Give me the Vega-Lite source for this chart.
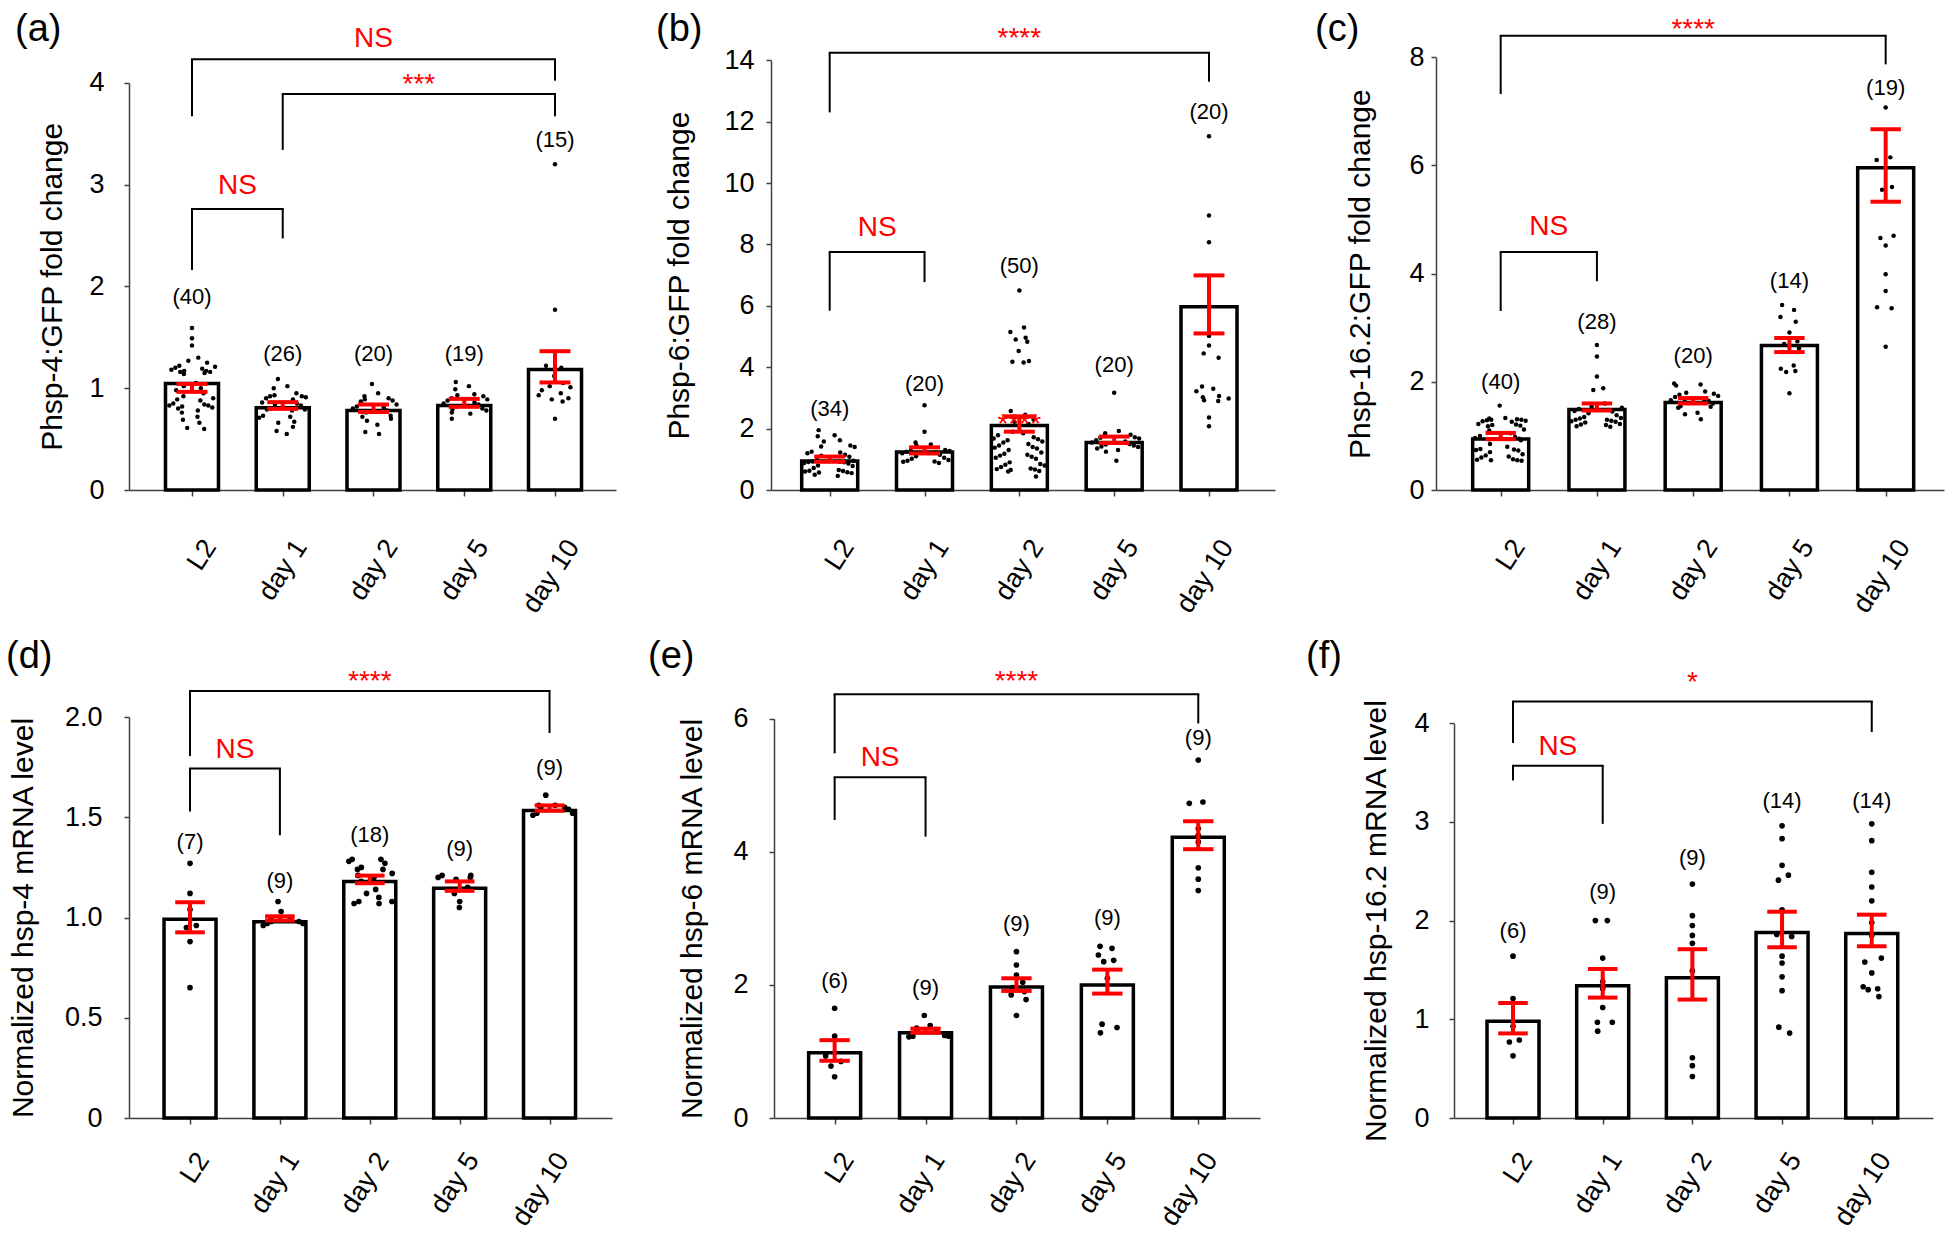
{
"$schema": "https://vega.github.io/schema/vega-lite/v6.json",
"padding": {"left": 6, "top": 10, "right": 5, "bottom": 5},
"background": "white",
"spacing": 20,
"config": {
 "font": "Liberation Sans",
 "view": {"stroke": null},
 "axis": {"grid": false, "domainColor": "#404040", "domainWidth": 1.5, "tickColor": "#404040", "tickWidth": 1.5, "labelColor": "#000000", "titleColor": "#000000", "labelFontSize": 27, "titleFontSize": 30, "titleFontWeight": "normal", "labelFont": "Liberation Sans", "titleFont": "Liberation Sans", "labelFlush": false, "labelOverlap": false},
 "axisY": {"tickSize": 5},
 "axisX": {"tickSize": 6},
 "title": {"anchor": "start", "frame": "group", "fontSize": 38, "fontWeight": "normal", "font": "Liberation Sans", "color": "#000000", "offset": 0, "baseline": "alphabetic"},
 "text": {"font": "Liberation Sans"}
},
"datasets": {
 "a_pts": [
  {"g":"L2","v":1.59},{"g":"L2","v":1.49},{"g":"L2","v":1.42},{"g":"L2","v":1.30},{"g":"L2","v":1.27},{"g":"L2","v":1.25},{"g":"L2","v":1.22},{"g":"L2","v":1.21},{"g":"L2","v":1.20},{"g":"L2","v":1.19},{"g":"L2","v":1.18},{"g":"L2","v":1.17},{"g":"L2","v":1.17},{"g":"L2","v":1.16},{"g":"L2","v":1.16},{"g":"L2","v":1.15},{"g":"L2","v":1.14},{"g":"L2","v":1.05},{"g":"L2","v":1.02},{"g":"L2","v":1.00},{"g":"L2","v":0.98},{"g":"L2","v":0.95},{"g":"L2","v":0.92},{"g":"L2","v":0.90},{"g":"L2","v":0.89},{"g":"L2","v":0.88},{"g":"L2","v":0.85},{"g":"L2","v":0.84},{"g":"L2","v":0.83},{"g":"L2","v":0.83},{"g":"L2","v":0.82},{"g":"L2","v":0.81},{"g":"L2","v":0.80},{"g":"L2","v":0.78},{"g":"L2","v":0.76},{"g":"L2","v":0.72},{"g":"L2","v":0.69},{"g":"L2","v":0.66},{"g":"L2","v":0.61},{"g":"L2","v":0.60},
  {"g":"day 1","v":1.09},{"g":"day 1","v":1.02},{"g":"day 1","v":1.00},{"g":"day 1","v":0.95},{"g":"day 1","v":0.93},{"g":"day 1","v":0.92},{"g":"day 1","v":0.92},{"g":"day 1","v":0.91},{"g":"day 1","v":0.90},{"g":"day 1","v":0.89},{"g":"day 1","v":0.86},{"g":"day 1","v":0.85},{"g":"day 1","v":0.84},{"g":"day 1","v":0.83},{"g":"day 1","v":0.80},{"g":"day 1","v":0.79},{"g":"day 1","v":0.79},{"g":"day 1","v":0.78},{"g":"day 1","v":0.73},{"g":"day 1","v":0.72},{"g":"day 1","v":0.71},{"g":"day 1","v":0.67},{"g":"day 1","v":0.66},{"g":"day 1","v":0.62},{"g":"day 1","v":0.58},{"g":"day 1","v":0.55},
  {"g":"day 2","v":1.04},{"g":"day 2","v":0.95},{"g":"day 2","v":0.92},{"g":"day 2","v":0.90},{"g":"day 2","v":0.89},{"g":"day 2","v":0.88},{"g":"day 2","v":0.87},{"g":"day 2","v":0.84},{"g":"day 2","v":0.82},{"g":"day 2","v":0.81},{"g":"day 2","v":0.80},{"g":"day 2","v":0.78},{"g":"day 2","v":0.76},{"g":"day 2","v":0.73},{"g":"day 2","v":0.72},{"g":"day 2","v":0.70},{"g":"day 2","v":0.68},{"g":"day 2","v":0.64},{"g":"day 2","v":0.57},{"g":"day 2","v":0.55},
  {"g":"day 5","v":1.06},{"g":"day 5","v":1.02},{"g":"day 5","v":0.99},{"g":"day 5","v":0.94},{"g":"day 5","v":0.93},{"g":"day 5","v":0.92},{"g":"day 5","v":0.90},{"g":"day 5","v":0.89},{"g":"day 5","v":0.88},{"g":"day 5","v":0.86},{"g":"day 5","v":0.85},{"g":"day 5","v":0.84},{"g":"day 5","v":0.82},{"g":"day 5","v":0.80},{"g":"day 5","v":0.79},{"g":"day 5","v":0.78},{"g":"day 5","v":0.76},{"g":"day 5","v":0.75},{"g":"day 5","v":0.70},
  {"g":"day 10","v":3.20},{"g":"day 10","v":1.77},{"g":"day 10","v":1.22},{"g":"day 10","v":1.20},{"g":"day 10","v":1.12},{"g":"day 10","v":1.05},{"g":"day 10","v":1.02},{"g":"day 10","v":1.01},{"g":"day 10","v":0.98},{"g":"day 10","v":0.95},{"g":"day 10","v":0.93},{"g":"day 10","v":0.90},{"g":"day 10","v":0.89},{"g":"day 10","v":0.87},{"g":"day 10","v":0.70}
 ],
 "a_bar": [
  {"g":"L2","mean":1.046,"lo":0.964,"hi":1.042,"n":"(40)","ny":1.825},
  {"g":"day 1","mean":0.807,"lo":0.797,"hi":0.863,"n":"(26)","ny":1.27},
  {"g":"day 2","mean":0.781,"lo":0.765,"hi":0.840,"n":"(20)","ny":1.27},
  {"g":"day 5","mean":0.830,"lo":0.817,"hi":0.895,"n":"(19)","ny":1.27},
  {"g":"day 10","mean":1.183,"lo":1.056,"hi":1.363,"n":"(15)","ny":3.37}
 ],
 "a_sig": [
  {"from":"L2","to":"day 10","top":4.23,"ly":3.67,"ry":4.02,"label":"NS","ty":4.35},
  {"from":"day 1","to":"day 10","top":3.89,"ly":3.34,"ry":3.67,"label":"***","ty":3.90},
  {"from":"L2","to":"day 1","top":2.76,"ly":2.16,"ry":2.47,"label":"NS","ty":2.91}
 ],
 "b_pts": [
  {"g":"L2","v":1.95},{"g":"L2","v":1.78},{"g":"L2","v":1.75},{"g":"L2","v":1.62},{"g":"L2","v":1.58},{"g":"L2","v":1.45},{"g":"L2","v":1.42},{"g":"L2","v":1.40},{"g":"L2","v":1.25},{"g":"L2","v":1.22},{"g":"L2","v":1.20},{"g":"L2","v":1.15},{"g":"L2","v":1.12},{"g":"L2","v":1.08},{"g":"L2","v":0.98},{"g":"L2","v":0.95},{"g":"L2","v":0.93},{"g":"L2","v":0.92},{"g":"L2","v":0.91},{"g":"L2","v":0.90},{"g":"L2","v":0.88},{"g":"L2","v":0.86},{"g":"L2","v":0.80},{"g":"L2","v":0.78},{"g":"L2","v":0.72},{"g":"L2","v":0.65},{"g":"L2","v":0.63},{"g":"L2","v":0.62},{"g":"L2","v":0.60},{"g":"L2","v":0.58},{"g":"L2","v":0.57},{"g":"L2","v":0.55},{"g":"L2","v":0.50},{"g":"L2","v":0.46},
  {"g":"day 1","v":2.76},{"g":"day 1","v":1.90},{"g":"day 1","v":1.55},{"g":"day 1","v":1.48},{"g":"day 1","v":1.45},{"g":"day 1","v":1.30},{"g":"day 1","v":1.28},{"g":"day 1","v":1.27},{"g":"day 1","v":1.25},{"g":"day 1","v":1.22},{"g":"day 1","v":1.20},{"g":"day 1","v":1.15},{"g":"day 1","v":1.10},{"g":"day 1","v":1.05},{"g":"day 1","v":1.02},{"g":"day 1","v":0.98},{"g":"day 1","v":0.95},{"g":"day 1","v":0.93},{"g":"day 1","v":0.92},{"g":"day 1","v":0.88},
  {"g":"day 2","v":6.50},{"g":"day 2","v":5.29},{"g":"day 2","v":5.15},{"g":"day 2","v":4.96},{"g":"day 2","v":4.90},{"g":"day 2","v":4.83},{"g":"day 2","v":4.53},{"g":"day 2","v":4.20},{"g":"day 2","v":4.18},{"g":"day 2","v":4.15},{"g":"day 2","v":2.57},{"g":"day 2","v":2.45},{"g":"day 2","v":2.38},{"g":"day 2","v":2.30},{"g":"day 2","v":2.22},{"g":"day 2","v":2.15},{"g":"day 2","v":1.90},{"g":"day 2","v":1.85},{"g":"day 2","v":1.78},{"g":"day 2","v":1.72},{"g":"day 2","v":1.68},{"g":"day 2","v":1.65},{"g":"day 2","v":1.62},{"g":"day 2","v":1.58},{"g":"day 2","v":1.55},{"g":"day 2","v":1.50},{"g":"day 2","v":1.45},{"g":"day 2","v":1.40},{"g":"day 2","v":1.38},{"g":"day 2","v":1.35},{"g":"day 2","v":1.30},{"g":"day 2","v":1.22},{"g":"day 2","v":1.18},{"g":"day 2","v":1.15},{"g":"day 2","v":1.12},{"g":"day 2","v":1.08},{"g":"day 2","v":1.05},{"g":"day 2","v":1.02},{"g":"day 2","v":0.90},{"g":"day 2","v":0.85},{"g":"day 2","v":0.82},{"g":"day 2","v":0.80},{"g":"day 2","v":0.75},{"g":"day 2","v":0.70},{"g":"day 2","v":0.68},{"g":"day 2","v":0.67},{"g":"day 2","v":0.65},{"g":"day 2","v":0.62},{"g":"day 2","v":0.60},{"g":"day 2","v":0.44},
  {"g":"day 5","v":3.17},{"g":"day 5","v":1.92},{"g":"day 5","v":1.85},{"g":"day 5","v":1.80},{"g":"day 5","v":1.76},{"g":"day 5","v":1.72},{"g":"day 5","v":1.70},{"g":"day 5","v":1.68},{"g":"day 5","v":1.62},{"g":"day 5","v":1.58},{"g":"day 5","v":1.55},{"g":"day 5","v":1.50},{"g":"day 5","v":1.48},{"g":"day 5","v":1.45},{"g":"day 5","v":1.42},{"g":"day 5","v":1.40},{"g":"day 5","v":1.35},{"g":"day 5","v":1.30},{"g":"day 5","v":1.25},{"g":"day 5","v":0.95},
  {"g":"day 10","v":11.52},{"g":"day 10","v":8.94},{"g":"day 10","v":8.07},{"g":"day 10","v":5.83},{"g":"day 10","v":5.02},{"g":"day 10","v":4.71},{"g":"day 10","v":4.45},{"g":"day 10","v":4.31},{"g":"day 10","v":3.37},{"g":"day 10","v":3.30},{"g":"day 10","v":3.22},{"g":"day 10","v":3.06},{"g":"day 10","v":3.02},{"g":"day 10","v":2.98},{"g":"day 10","v":2.92},{"g":"day 10","v":2.90},{"g":"day 10","v":2.36},{"g":"day 10","v":2.08}
 ],
 "b_bar": [
  {"g":"L2","mean":0.945,"lo":0.92,"hi":1.09,"n":"(34)","ny":2.40},
  {"g":"day 1","mean":1.24,"lo":1.19,"hi":1.39,"n":"(20)","ny":3.23},
  {"g":"day 2","mean":2.10,"lo":1.90,"hi":2.40,"n":"(50)","ny":7.08},
  {"g":"day 5","mean":1.55,"lo":1.53,"hi":1.74,"n":"(20)","ny":3.84},
  {"g":"day 10","mean":5.97,"lo":5.10,"hi":6.99,"n":"(20)","ny":12.10}
 ],
 "b_sig": [
  {"from":"L2","to":"day 10","top":14.24,"ly":12.30,"ry":13.30,"label":"****","ty":14.43},
  {"from":"L2","to":"day 1","top":7.75,"ly":5.84,"ry":6.77,"label":"NS","ty":8.27},
  {"from":"day 2","to":"day 2","label":"****","ty":1.86}
 ],
 "c_pts": [
  {"g":"L2","v":1.56},{"g":"L2","v":1.33},{"g":"L2","v":1.32},{"g":"L2","v":1.31},{"g":"L2","v":1.30},{"g":"L2","v":1.30},{"g":"L2","v":1.29},{"g":"L2","v":1.28},{"g":"L2","v":1.27},{"g":"L2","v":1.26},{"g":"L2","v":1.22},{"g":"L2","v":1.21},{"g":"L2","v":1.20},{"g":"L2","v":1.19},{"g":"L2","v":1.18},{"g":"L2","v":1.12},{"g":"L2","v":1.10},{"g":"L2","v":1.05},{"g":"L2","v":1.00},{"g":"L2","v":0.98},{"g":"L2","v":0.96},{"g":"L2","v":0.95},{"g":"L2","v":0.94},{"g":"L2","v":0.92},{"g":"L2","v":0.85},{"g":"L2","v":0.80},{"g":"L2","v":0.76},{"g":"L2","v":0.75},{"g":"L2","v":0.74},{"g":"L2","v":0.73},{"g":"L2","v":0.70},{"g":"L2","v":0.66},{"g":"L2","v":0.64},{"g":"L2","v":0.62},{"g":"L2","v":0.60},{"g":"L2","v":0.57},{"g":"L2","v":0.56},{"g":"L2","v":0.55},{"g":"L2","v":0.55},{"g":"L2","v":0.54},
  {"g":"day 1","v":2.68},{"g":"day 1","v":2.47},{"g":"day 1","v":2.10},{"g":"day 1","v":1.88},{"g":"day 1","v":1.85},{"g":"day 1","v":1.60},{"g":"day 1","v":1.55},{"g":"day 1","v":1.52},{"g":"day 1","v":1.50},{"g":"day 1","v":1.48},{"g":"day 1","v":1.46},{"g":"day 1","v":1.45},{"g":"day 1","v":1.42},{"g":"day 1","v":1.38},{"g":"day 1","v":1.35},{"g":"day 1","v":1.33},{"g":"day 1","v":1.32},{"g":"day 1","v":1.30},{"g":"day 1","v":1.30},{"g":"day 1","v":1.28},{"g":"day 1","v":1.27},{"g":"day 1","v":1.26},{"g":"day 1","v":1.25},{"g":"day 1","v":1.22},{"g":"day 1","v":1.21},{"g":"day 1","v":1.20},{"g":"day 1","v":1.18},{"g":"day 1","v":1.17},
  {"g":"day 2","v":1.97},{"g":"day 2","v":1.95},{"g":"day 2","v":1.93},{"g":"day 2","v":1.82},{"g":"day 2","v":1.80},{"g":"day 2","v":1.78},{"g":"day 2","v":1.76},{"g":"day 2","v":1.74},{"g":"day 2","v":1.72},{"g":"day 2","v":1.68},{"g":"day 2","v":1.66},{"g":"day 2","v":1.65},{"g":"day 2","v":1.63},{"g":"day 2","v":1.60},{"g":"day 2","v":1.55},{"g":"day 2","v":1.54},{"g":"day 2","v":1.52},{"g":"day 2","v":1.43},{"g":"day 2","v":1.40},{"g":"day 2","v":1.31},
  {"g":"day 5","v":3.42},{"g":"day 5","v":3.33},{"g":"day 5","v":3.20},{"g":"day 5","v":3.11},{"g":"day 5","v":2.91},{"g":"day 5","v":2.75},{"g":"day 5","v":2.70},{"g":"day 5","v":2.62},{"g":"day 5","v":2.55},{"g":"day 5","v":2.30},{"g":"day 5","v":2.24},{"g":"day 5","v":2.20},{"g":"day 5","v":2.18},{"g":"day 5","v":1.79},
  {"g":"day 10","v":7.07},{"g":"day 10","v":6.15},{"g":"day 10","v":6.10},{"g":"day 10","v":5.60},{"g":"day 10","v":5.55},{"g":"day 10","v":4.70},{"g":"day 10","v":4.66},{"g":"day 10","v":4.52},{"g":"day 10","v":3.99},{"g":"day 10","v":3.68},{"g":"day 10","v":3.38},{"g":"day 10","v":3.36},{"g":"day 10","v":2.65}
 ],
 "c_bar": [
  {"g":"L2","mean":0.944,"lo":0.94,"hi":1.055,"n":"(40)","ny":1.87},
  {"g":"day 1","mean":1.49,"lo":1.47,"hi":1.60,"n":"(28)","ny":2.97},
  {"g":"day 2","mean":1.62,"lo":1.60,"hi":1.70,"n":"(20)","ny":2.34},
  {"g":"day 5","mean":2.67,"lo":2.55,"hi":2.81,"n":"(14)","ny":3.73},
  {"g":"day 10","mean":5.96,"lo":5.33,"hi":6.67,"n":"(19)","ny":7.31}
 ],
 "c_sig": [
  {"from":"L2","to":"day 10","top":8.40,"ly":7.32,"ry":7.87,"label":"****","ty":8.365},
  {"from":"L2","to":"day 1","top":4.40,"ly":3.31,"ry":3.86,"label":"NS","ty":4.71}
 ],
 "d_pts": [
  {"g":"L2","v":1.27},{"g":"L2","v":1.12},{"g":"L2","v":1.04},{"g":"L2","v":0.96},{"g":"L2","v":0.95},{"g":"L2","v":0.88},{"g":"L2","v":0.65},
  {"g":"day 1","v":1.08},{"g":"day 1","v":1.03},{"g":"day 1","v":1.00},{"g":"day 1","v":1.00},{"g":"day 1","v":0.98},{"g":"day 1","v":0.98},{"g":"day 1","v":0.97},{"g":"day 1","v":0.97},{"g":"day 1","v":0.96},
  {"g":"day 2","v":1.29},{"g":"day 2","v":1.29},{"g":"day 2","v":1.28},{"g":"day 2","v":1.27},{"g":"day 2","v":1.25},{"g":"day 2","v":1.24},{"g":"day 2","v":1.24},{"g":"day 2","v":1.22},{"g":"day 2","v":1.21},{"g":"day 2","v":1.20},{"g":"day 2","v":1.18},{"g":"day 2","v":1.14},{"g":"day 2","v":1.12},{"g":"day 2","v":1.10},{"g":"day 2","v":1.08},{"g":"day 2","v":1.08},{"g":"day 2","v":1.07},{"g":"day 2","v":1.07},
  {"g":"day 5","v":1.21},{"g":"day 5","v":1.21},{"g":"day 5","v":1.20},{"g":"day 5","v":1.20},{"g":"day 5","v":1.19},{"g":"day 5","v":1.15},{"g":"day 5","v":1.12},{"g":"day 5","v":1.08},{"g":"day 5","v":1.05},
  {"g":"day 10","v":1.61},{"g":"day 10","v":1.56},{"g":"day 10","v":1.56},{"g":"day 10","v":1.55},{"g":"day 10","v":1.55},{"g":"day 10","v":1.54},{"g":"day 10","v":1.52},{"g":"day 10","v":1.52},{"g":"day 10","v":1.51}
 ],
 "d_bar": [
  {"g":"L2","mean":0.991,"lo":0.926,"hi":1.076,"n":"(7)","ny":1.344},
  {"g":"day 1","mean":0.979,"lo":0.985,"hi":1.006,"n":"(9)","ny":1.147},
  {"g":"day 2","mean":1.179,"lo":1.171,"hi":1.209,"n":"(18)","ny":1.378},
  {"g":"day 5","mean":1.146,"lo":1.133,"hi":1.18,"n":"(9)","ny":1.309},
  {"g":"day 10","mean":1.534,"lo":1.5325,"hi":1.559,"n":"(9)","ny":1.71}
 ],
 "d_sig": [
  {"from":"L2","to":"day 10","top":2.13,"ly":1.805,"ry":1.92,"label":"****","ty":2.135},
  {"from":"L2","to":"day 1","top":1.743,"ly":1.529,"ry":1.41,"label":"NS","ty":1.796}
 ],
 "e_pts": [
  {"g":"L2","v":1.65},{"g":"L2","v":1.23},{"g":"L2","v":0.93},{"g":"L2","v":0.85},{"g":"L2","v":0.78},{"g":"L2","v":0.62},
  {"g":"day 1","v":1.54},{"g":"day 1","v":1.39},{"g":"day 1","v":1.35},{"g":"day 1","v":1.33},{"g":"day 1","v":1.31},{"g":"day 1","v":1.24},{"g":"day 1","v":1.23},{"g":"day 1","v":1.23},{"g":"day 1","v":1.22},
  {"g":"day 2","v":2.50},{"g":"day 2","v":2.30},{"g":"day 2","v":2.15},{"g":"day 2","v":2.04},{"g":"day 2","v":1.96},{"g":"day 2","v":1.90},{"g":"day 2","v":1.85},{"g":"day 2","v":1.78},{"g":"day 2","v":1.54},
  {"g":"day 5","v":2.58},{"g":"day 5","v":2.55},{"g":"day 5","v":2.45},{"g":"day 5","v":2.37},{"g":"day 5","v":2.35},{"g":"day 5","v":2.10},{"g":"day 5","v":1.41},{"g":"day 5","v":1.36},{"g":"day 5","v":1.28},
  {"g":"day 10","v":5.38},{"g":"day 10","v":4.75},{"g":"day 10","v":4.73},{"g":"day 10","v":4.35},{"g":"day 10","v":4.25},{"g":"day 10","v":4.15},{"g":"day 10","v":3.76},{"g":"day 10","v":3.59},{"g":"day 10","v":3.42}
 ],
 "e_bar": [
  {"g":"L2","mean":0.98,"lo":0.86,"hi":1.17,"n":"(6)","ny":1.95},
  {"g":"day 1","mean":1.28,"lo":1.283,"hi":1.343,"n":"(9)","ny":1.85},
  {"g":"day 2","mean":1.97,"lo":1.91,"hi":2.10,"n":"(9)","ny":2.815},
  {"g":"day 5","mean":2.00,"lo":1.87,"hi":2.23,"n":"(9)","ny":2.90},
  {"g":"day 10","mean":4.22,"lo":4.04,"hi":4.46,"n":"(9)","ny":5.60}
 ],
 "e_sig": [
  {"from":"L2","to":"day 10","top":6.37,"ly":5.48,"ry":5.93,"label":"****","ty":6.43},
  {"from":"L2","to":"day 1","top":5.12,"ly":4.48,"ry":4.23,"label":"NS","ty":5.29}
 ],
 "f_pts": [
  {"g":"L2","v":1.64},{"g":"L2","v":1.21},{"g":"L2","v":0.93},{"g":"L2","v":0.79},{"g":"L2","v":0.77},{"g":"L2","v":0.63},
  {"g":"day 1","v":2.00},{"g":"day 1","v":2.00},{"g":"day 1","v":1.62},{"g":"day 1","v":1.38},{"g":"day 1","v":1.31},{"g":"day 1","v":1.12},{"g":"day 1","v":0.97},{"g":"day 1","v":0.97},{"g":"day 1","v":0.88},
  {"g":"day 2","v":2.37},{"g":"day 2","v":2.05},{"g":"day 2","v":1.95},{"g":"day 2","v":1.85},{"g":"day 2","v":1.77},{"g":"day 2","v":1.49},{"g":"day 2","v":0.61},{"g":"day 2","v":0.53},{"g":"day 2","v":0.42},
  {"g":"day 5","v":2.96},{"g":"day 5","v":2.83},{"g":"day 5","v":2.56},{"g":"day 5","v":2.46},{"g":"day 5","v":2.41},{"g":"day 5","v":2.11},{"g":"day 5","v":1.86},{"g":"day 5","v":1.84},{"g":"day 5","v":1.64},{"g":"day 5","v":1.57},{"g":"day 5","v":1.43},{"g":"day 5","v":1.29},{"g":"day 5","v":0.92},{"g":"day 5","v":0.86},
  {"g":"day 10","v":2.98},{"g":"day 10","v":2.81},{"g":"day 10","v":2.49},{"g":"day 10","v":2.34},{"g":"day 10","v":2.20},{"g":"day 10","v":1.98},{"g":"day 10","v":1.85},{"g":"day 10","v":1.62},{"g":"day 10","v":1.58},{"g":"day 10","v":1.47},{"g":"day 10","v":1.33},{"g":"day 10","v":1.31},{"g":"day 10","v":1.30},{"g":"day 10","v":1.23}
 ],
 "f_bar": [
  {"g":"L2","mean":0.98,"lo":0.857,"hi":1.165,"n":"(6)","ny":1.82},
  {"g":"day 1","mean":1.34,"lo":1.22,"hi":1.51,"n":"(9)","ny":2.22},
  {"g":"day 2","mean":1.42,"lo":1.20,"hi":1.71,"n":"(9)","ny":2.56},
  {"g":"day 5","mean":1.88,"lo":1.73,"hi":2.09,"n":"(14)","ny":3.14},
  {"g":"day 10","mean":1.87,"lo":1.74,"hi":2.06,"n":"(14)","ny":3.14}
 ],
 "f_sig": [
  {"from":"L2","to":"day 10","top":4.22,"ly":3.80,"ry":3.91,"label":"*","ty":4.33},
  {"from":"L2","to":"day 1","top":3.57,"ly":3.42,"ry":2.98,"label":"NS","ty":3.68}
 ]
},
"vconcat": [
 {"spacing": 0, "bounds": "flush", "hconcat": [
 {
  "width": 487, "height": 433,
  "title": {"text": "(a)", "dx": -114, "dy": 27.5},
  "encoding": {
   "x": {"field": "X", "type": "quantitative", "scale": {"domain": [-0.694, 4.672], "nice": false, "zero": false, "padding": 0}, "axis": {"values": [0,1,2,3,4], "labelExpr": "['L2','day 1','day 2','day 5','day 10'][datum.value]", "title": null, "labelAngle": -57, "labelAlign": "right", "labelBaseline": "middle", "labelPadding": 46, "labelOffset": 18}},
   "y": {"field": "Y", "type": "quantitative", "scale": {"domain": [0, 4], "range": [433, 25.7], "nice": false, "zero": false}, "axis": {"values": [0,1,2,3,4], "title": "Phsp-4:GFP fold change", "labelPadding": 20, "titlePadding": 21}}
  },
  "layer": [
   {"data": {"name": "a_bar"}, "transform": [{"calculate": "indexof(['L2','day 1','day 2','day 5','day 10'], datum.g)", "as": "X"}, {"calculate": "datum.mean", "as": "Y"}], "mark": {"type": "bar", "orient": "vertical", "width": 53, "fill": "#ffffff", "stroke": "#000000", "strokeWidth": 3.5}, "encoding": {"y2": {"datum": 0}}},
   {"data": {"name": "a_pts"}, "transform": [
     {"window": [{"op": "row_number", "as": "rn"}, {"op": "min", "field": "v", "as": "lo5"}, {"op": "max", "field": "v", "as": "hi5"}, {"op": "count", "as": "c5"}, {"op": "lag", "field": "v", "as": "pv"}, {"op": "lead", "field": "v", "as": "nv"}], "groupby": ["g"], "sort": [{"field": "v", "order": "descending"}], "frame": [-2, 2]},
     {"calculate": "min(isValid(datum.pv) ? abs(datum.pv - datum.v) : 99, isValid(datum.nv) ? abs(datum.nv - datum.v) : 99) * 102", "as": "nn"},
     {"calculate": "datum.c5 * 6 / ((datum.hi5 - datum.lo5) * 102 + 0.5)", "as": "occ"},
     {"calculate": "min(24, max((datum.occ - 1.2) * 10, datum.nn < 6 ? 10 : 0))", "as": "sp"},
     {"calculate": "indexof(['L2','day 1','day 2','day 5','day 10'], datum.g) + (datum.rn % 2 == 0 ? 1 : -1) * datum.sp * (0.3 + 0.7 * ((datum.rn * 0.618034) % 1)) / 90.75", "as": "X"},
     {"calculate": "datum.v", "as": "Y"}
    ], "mark": {"type": "circle", "size": 20, "color": "#000000", "opacity": 1}},
   {"data": {"name": "a_bar"}, "transform": [{"calculate": "indexof(['L2','day 1','day 2','day 5','day 10'], datum.g)", "as": "X"}, {"calculate": "datum.lo", "as": "Y"}], "mark": {"type": "rule", "color": "#ff0000", "strokeWidth": 4}, "encoding": {"y2": {"field": "hi"}}},
   {"data": {"name": "a_bar"}, "transform": [{"fold": ["lo", "hi"], "as": ["k", "Y"]}, {"calculate": "indexof(['L2','day 1','day 2','day 5','day 10'], datum.g) - 0.171", "as": "X"}, {"calculate": "indexof(['L2','day 1','day 2','day 5','day 10'], datum.g) + 0.171", "as": "X2"}], "mark": {"type": "rule", "color": "#ff0000", "strokeWidth": 4}, "encoding": {"x2": {"field": "X2"}}},
   {"data": {"name": "a_bar"}, "transform": [{"calculate": "indexof(['L2','day 1','day 2','day 5','day 10'], datum.g)", "as": "X"}, {"calculate": "datum.ny", "as": "Y"}], "mark": {"type": "text", "fontSize": 22, "baseline": "alphabetic", "color": "#000000"}, "encoding": {"text": {"field": "n"}}},
   {"data": {"name": "a_sig"}, "transform": [{"calculate": "indexof(['L2','day 1','day 2','day 5','day 10'], datum.from)", "as": "X"}, {"calculate": "indexof(['L2','day 1','day 2','day 5','day 10'], datum.to)", "as": "X2"}, {"calculate": "datum.top", "as": "Y"}], "mark": {"type": "rule", "color": "#000000", "strokeWidth": 2, "strokeCap": "square"}, "encoding": {"x2": {"field": "X2"}}},
   {"data": {"name": "a_sig"}, "transform": [{"calculate": "indexof(['L2','day 1','day 2','day 5','day 10'], datum.from)", "as": "X"}, {"calculate": "datum.top", "as": "Y"}], "mark": {"type": "rule", "color": "#000000", "strokeWidth": 2}, "encoding": {"y2": {"field": "ly"}}},
   {"data": {"name": "a_sig"}, "transform": [{"calculate": "indexof(['L2','day 1','day 2','day 5','day 10'], datum.to)", "as": "X"}, {"calculate": "datum.top", "as": "Y"}], "mark": {"type": "rule", "color": "#000000", "strokeWidth": 2}, "encoding": {"y2": {"field": "ry"}}},
   {"data": {"name": "a_sig"}, "transform": [{"calculate": "(indexof(['L2','day 1','day 2','day 5','day 10'], datum.from) + indexof(['L2','day 1','day 2','day 5','day 10'], datum.to)) / 2", "as": "X"}, {"calculate": "datum.ty", "as": "Y"}], "mark": {"type": "text", "fontSize": 28, "baseline": "alphabetic", "color": "#ff0000"}, "encoding": {"text": {"field": "label"}}}
  ]
 },
 {"width": 155, "height": 433, "data": {"values": [{"s": 1}]}, "mark": {"type": "point", "opacity": 0}, "encoding": {}},
 {
  "width": 504, "height": 433,
  "title": {"text": "(b)", "dx": -115, "dy": 27.6},
  "encoding": {
   "x": {"field": "X", "type": "quantitative", "scale": {"domain": [-0.619, 4.696], "nice": false, "zero": false, "padding": 0}, "axis": {"values": [0,1,2,3,4], "labelExpr": "['L2','day 1','day 2','day 5','day 10'][datum.value]", "title": null, "labelAngle": -57, "labelAlign": "right", "labelBaseline": "middle", "labelPadding": 46, "labelOffset": 18}},
   "y": {"field": "Y", "type": "quantitative", "scale": {"domain": [0, 14], "range": [433, 3.2], "nice": false, "zero": false}, "axis": {"values": [0,2,4,6,8,10,12,14], "title": "Phsp-6:GFP fold change", "labelPadding": 12, "titlePadding": 29}}
  },
  "layer": [
   {"data": {"name": "b_bar"}, "transform": [{"calculate": "indexof(['L2','day 1','day 2','day 5','day 10'], datum.g)", "as": "X"}, {"calculate": "datum.mean", "as": "Y"}], "mark": {"type": "bar", "orient": "vertical", "width": 56, "fill": "#ffffff", "stroke": "#000000", "strokeWidth": 3.5}, "encoding": {"y2": {"datum": 0}}},
   {"data": {"name": "b_pts"}, "transform": [
     {"window": [{"op": "row_number", "as": "rn"}, {"op": "min", "field": "v", "as": "lo5"}, {"op": "max", "field": "v", "as": "hi5"}, {"op": "count", "as": "c5"}, {"op": "lag", "field": "v", "as": "pv"}, {"op": "lead", "field": "v", "as": "nv"}], "groupby": ["g"], "sort": [{"field": "v", "order": "descending"}], "frame": [-2, 2]},
     {"calculate": "min(isValid(datum.pv) ? abs(datum.pv - datum.v) : 99, isValid(datum.nv) ? abs(datum.nv - datum.v) : 99) * 30.7", "as": "nn"},
     {"calculate": "datum.c5 * 6 / ((datum.hi5 - datum.lo5) * 30.7 + 0.5)", "as": "occ"},
     {"calculate": "min(26, max((datum.occ - 1.2) * 10, datum.nn < 6 ? 10 : 0))", "as": "sp"},
     {"calculate": "indexof(['L2','day 1','day 2','day 5','day 10'], datum.g) + (datum.rn % 2 == 0 ? 1 : -1) * datum.sp * (0.3 + 0.7 * ((datum.rn * 0.618034) % 1)) / 94.85", "as": "X"},
     {"calculate": "datum.v", "as": "Y"}
    ], "mark": {"type": "circle", "size": 20, "color": "#000000", "opacity": 1}},
   {"data": {"name": "b_bar"}, "transform": [{"calculate": "indexof(['L2','day 1','day 2','day 5','day 10'], datum.g)", "as": "X"}, {"calculate": "datum.lo", "as": "Y"}], "mark": {"type": "rule", "color": "#ff0000", "strokeWidth": 4}, "encoding": {"y2": {"field": "hi"}}},
   {"data": {"name": "b_bar"}, "transform": [{"fold": ["lo", "hi"], "as": ["k", "Y"]}, {"calculate": "indexof(['L2','day 1','day 2','day 5','day 10'], datum.g) - 0.163", "as": "X"}, {"calculate": "indexof(['L2','day 1','day 2','day 5','day 10'], datum.g) + 0.163", "as": "X2"}], "mark": {"type": "rule", "color": "#ff0000", "strokeWidth": 4}, "encoding": {"x2": {"field": "X2"}}},
   {"data": {"name": "b_bar"}, "transform": [{"calculate": "indexof(['L2','day 1','day 2','day 5','day 10'], datum.g)", "as": "X"}, {"calculate": "datum.ny", "as": "Y"}], "mark": {"type": "text", "fontSize": 22, "baseline": "alphabetic", "color": "#000000"}, "encoding": {"text": {"field": "n"}}},
   {"data": {"name": "b_sig"}, "transform": [{"calculate": "indexof(['L2','day 1','day 2','day 5','day 10'], datum.from)", "as": "X"}, {"calculate": "indexof(['L2','day 1','day 2','day 5','day 10'], datum.to)", "as": "X2"}, {"calculate": "datum.top", "as": "Y"}], "mark": {"type": "rule", "color": "#000000", "strokeWidth": 2, "strokeCap": "square"}, "encoding": {"x2": {"field": "X2"}}},
   {"data": {"name": "b_sig"}, "transform": [{"calculate": "indexof(['L2','day 1','day 2','day 5','day 10'], datum.from)", "as": "X"}, {"calculate": "datum.top", "as": "Y"}], "mark": {"type": "rule", "color": "#000000", "strokeWidth": 2}, "encoding": {"y2": {"field": "ly"}}},
   {"data": {"name": "b_sig"}, "transform": [{"calculate": "indexof(['L2','day 1','day 2','day 5','day 10'], datum.to)", "as": "X"}, {"calculate": "datum.top", "as": "Y"}], "mark": {"type": "rule", "color": "#000000", "strokeWidth": 2}, "encoding": {"y2": {"field": "ry"}}},
   {"data": {"name": "b_sig"}, "transform": [{"calculate": "(indexof(['L2','day 1','day 2','day 5','day 10'], datum.from) + indexof(['L2','day 1','day 2','day 5','day 10'], datum.to)) / 2", "as": "X"}, {"calculate": "datum.ty", "as": "Y"}], "mark": {"type": "text", "fontSize": 28, "baseline": "alphabetic", "color": "#ff0000"}, "encoding": {"text": {"field": "label"}}}
  ]
 },
 {"width": 161, "height": 433, "data": {"values": [{"s": 1}]}, "mark": {"type": "point", "opacity": 0}, "encoding": {}},
 {
  "width": 508, "height": 433,
  "title": {"text": "(c)", "dx": -121, "dy": 37.0},
  "encoding": {
   "x": {"field": "X", "type": "quantitative", "scale": {"domain": [-0.672, 4.606], "nice": false, "zero": false, "padding": 0}, "axis": {"values": [0,1,2,3,4], "labelExpr": "['L2','day 1','day 2','day 5','day 10'][datum.value]", "title": null, "labelAngle": -57, "labelAlign": "right", "labelBaseline": "middle", "labelPadding": 46, "labelOffset": 18}},
   "y": {"field": "Y", "type": "quantitative", "scale": {"domain": [0, 8], "range": [433, 0.3], "nice": false, "zero": false}, "axis": {"values": [0,2,4,6,8], "title": "Phsp-16.2:GFP fold change", "labelPadding": 7, "titlePadding": 33}}
  },
  "layer": [
   {"data": {"name": "c_bar"}, "transform": [{"calculate": "indexof(['L2','day 1','day 2','day 5','day 10'], datum.g)", "as": "X"}, {"calculate": "datum.mean", "as": "Y"}], "mark": {"type": "bar", "orient": "vertical", "width": 56, "fill": "#ffffff", "stroke": "#000000", "strokeWidth": 3.5}, "encoding": {"y2": {"datum": 0}}},
   {"data": {"name": "c_pts"}, "transform": [
     {"window": [{"op": "row_number", "as": "rn"}, {"op": "min", "field": "v", "as": "lo5"}, {"op": "max", "field": "v", "as": "hi5"}, {"op": "count", "as": "c5"}, {"op": "lag", "field": "v", "as": "pv"}, {"op": "lead", "field": "v", "as": "nv"}], "groupby": ["g"], "sort": [{"field": "v", "order": "descending"}], "frame": [-2, 2]},
     {"calculate": "min(isValid(datum.pv) ? abs(datum.pv - datum.v) : 99, isValid(datum.nv) ? abs(datum.nv - datum.v) : 99) * 54", "as": "nn"},
     {"calculate": "datum.c5 * 6 / ((datum.hi5 - datum.lo5) * 54 + 0.5)", "as": "occ"},
     {"calculate": "min(26, max((datum.occ - 1.2) * 10, datum.nn < 6 ? 10 : 0))", "as": "sp"},
     {"calculate": "indexof(['L2','day 1','day 2','day 5','day 10'], datum.g) + (datum.rn % 2 == 0 ? 1 : -1) * datum.sp * (0.3 + 0.7 * ((datum.rn * 0.618034) % 1)) / 96.25", "as": "X"},
     {"calculate": "datum.v", "as": "Y"}
    ], "mark": {"type": "circle", "size": 20, "color": "#000000", "opacity": 1}},
   {"data": {"name": "c_bar"}, "transform": [{"calculate": "indexof(['L2','day 1','day 2','day 5','day 10'], datum.g)", "as": "X"}, {"calculate": "datum.lo", "as": "Y"}], "mark": {"type": "rule", "color": "#ff0000", "strokeWidth": 4}, "encoding": {"y2": {"field": "hi"}}},
   {"data": {"name": "c_bar"}, "transform": [{"fold": ["lo", "hi"], "as": ["k", "Y"]}, {"calculate": "indexof(['L2','day 1','day 2','day 5','day 10'], datum.g) - 0.158", "as": "X"}, {"calculate": "indexof(['L2','day 1','day 2','day 5','day 10'], datum.g) + 0.158", "as": "X2"}], "mark": {"type": "rule", "color": "#ff0000", "strokeWidth": 4}, "encoding": {"x2": {"field": "X2"}}},
   {"data": {"name": "c_bar"}, "transform": [{"calculate": "indexof(['L2','day 1','day 2','day 5','day 10'], datum.g)", "as": "X"}, {"calculate": "datum.ny", "as": "Y"}], "mark": {"type": "text", "fontSize": 22, "baseline": "alphabetic", "color": "#000000"}, "encoding": {"text": {"field": "n"}}},
   {"data": {"name": "c_sig"}, "transform": [{"calculate": "indexof(['L2','day 1','day 2','day 5','day 10'], datum.from)", "as": "X"}, {"calculate": "indexof(['L2','day 1','day 2','day 5','day 10'], datum.to)", "as": "X2"}, {"calculate": "datum.top", "as": "Y"}], "mark": {"type": "rule", "color": "#000000", "strokeWidth": 2, "strokeCap": "square"}, "encoding": {"x2": {"field": "X2"}}},
   {"data": {"name": "c_sig"}, "transform": [{"calculate": "indexof(['L2','day 1','day 2','day 5','day 10'], datum.from)", "as": "X"}, {"calculate": "datum.top", "as": "Y"}], "mark": {"type": "rule", "color": "#000000", "strokeWidth": 2}, "encoding": {"y2": {"field": "ly"}}},
   {"data": {"name": "c_sig"}, "transform": [{"calculate": "indexof(['L2','day 1','day 2','day 5','day 10'], datum.to)", "as": "X"}, {"calculate": "datum.top", "as": "Y"}], "mark": {"type": "rule", "color": "#000000", "strokeWidth": 2}, "encoding": {"y2": {"field": "ry"}}},
   {"data": {"name": "c_sig"}, "transform": [{"calculate": "(indexof(['L2','day 1','day 2','day 5','day 10'], datum.from) + indexof(['L2','day 1','day 2','day 5','day 10'], datum.to)) / 2", "as": "X"}, {"calculate": "datum.ty", "as": "Y"}], "mark": {"type": "text", "fontSize": 28, "baseline": "alphabetic", "color": "#ff0000"}, "encoding": {"text": {"field": "label"}}}
  ]
 }
 ]},
 {"spacing": 0, "bounds": "flush", "hconcat": [
 {
  "width": 483, "height": 401,
  "title": {"text": "(d)", "dx": -123, "dy": 12.4},
  "encoding": {
   "x": {"field": "X", "type": "quantitative", "scale": {"domain": [-0.679, 4.695], "nice": false, "zero": false, "padding": 0}, "axis": {"values": [0,1,2,3,4], "labelExpr": "['L2','day 1','day 2','day 5','day 10'][datum.value]", "title": null, "labelAngle": -57, "labelAlign": "right", "labelBaseline": "middle", "labelPadding": 31, "labelOffset": 13}},
   "y": {"field": "Y", "type": "quantitative", "scale": {"domain": [0, 2], "range": [401, 0], "nice": false, "zero": false}, "axis": {"values": [0,0.5,1,1.5,2], "labelExpr": "datum.value == 0 ? '0' : format(datum.value, '.1f')", "title": "Normalized hsp-4 mRNA level", "labelPadding": 22, "titlePadding": 26}}
  },
  "layer": [
   {"data": {"name": "d_bar"}, "transform": [{"calculate": "indexof(['L2','day 1','day 2','day 5','day 10'], datum.g)", "as": "X"}, {"calculate": "datum.mean", "as": "Y"}], "mark": {"type": "bar", "orient": "vertical", "width": 52, "fill": "#ffffff", "stroke": "#000000", "strokeWidth": 3.5}, "encoding": {"y2": {"datum": 0}}},
   {"data": {"name": "d_pts"}, "transform": [
     {"window": [{"op": "row_number", "as": "rn"}, {"op": "min", "field": "v", "as": "lo5"}, {"op": "max", "field": "v", "as": "hi5"}, {"op": "count", "as": "c5"}, {"op": "lag", "field": "v", "as": "pv"}, {"op": "lead", "field": "v", "as": "nv"}], "groupby": ["g"], "sort": [{"field": "v", "order": "descending"}], "frame": [-2, 2]},
     {"calculate": "min(isValid(datum.pv) ? abs(datum.pv - datum.v) : 99, isValid(datum.nv) ? abs(datum.nv - datum.v) : 99) * 200", "as": "nn"},
     {"calculate": "datum.c5 * 6 / ((datum.hi5 - datum.lo5) * 200 + 0.5)", "as": "occ"},
     {"calculate": "min(24, max((datum.occ - 1.2) * 10, datum.nn < 6 ? 10 : 0))", "as": "sp"},
     {"calculate": "indexof(['L2','day 1','day 2','day 5','day 10'], datum.g) + (datum.rn % 2 == 0 ? 1 : -1) * datum.sp * (0.3 + 0.7 * ((datum.rn * 0.618034) % 1)) / 89.9", "as": "X"},
     {"calculate": "datum.v", "as": "Y"}
    ], "mark": {"type": "circle", "size": 32, "color": "#000000", "opacity": 1}},
   {"data": {"name": "d_bar"}, "transform": [{"calculate": "indexof(['L2','day 1','day 2','day 5','day 10'], datum.g)", "as": "X"}, {"calculate": "datum.lo", "as": "Y"}], "mark": {"type": "rule", "color": "#ff0000", "strokeWidth": 4}, "encoding": {"y2": {"field": "hi"}}},
   {"data": {"name": "d_bar"}, "transform": [{"fold": ["lo", "hi"], "as": ["k", "Y"]}, {"calculate": "indexof(['L2','day 1','day 2','day 5','day 10'], datum.g) - 0.165", "as": "X"}, {"calculate": "indexof(['L2','day 1','day 2','day 5','day 10'], datum.g) + 0.165", "as": "X2"}], "mark": {"type": "rule", "color": "#ff0000", "strokeWidth": 4}, "encoding": {"x2": {"field": "X2"}}},
   {"data": {"name": "d_bar"}, "transform": [{"calculate": "indexof(['L2','day 1','day 2','day 5','day 10'], datum.g)", "as": "X"}, {"calculate": "datum.ny", "as": "Y"}], "mark": {"type": "text", "fontSize": 22, "baseline": "alphabetic", "color": "#000000"}, "encoding": {"text": {"field": "n"}}},
   {"data": {"name": "d_sig"}, "transform": [{"calculate": "indexof(['L2','day 1','day 2','day 5','day 10'], datum.from)", "as": "X"}, {"calculate": "indexof(['L2','day 1','day 2','day 5','day 10'], datum.to)", "as": "X2"}, {"calculate": "datum.top", "as": "Y"}], "mark": {"type": "rule", "color": "#000000", "strokeWidth": 2, "strokeCap": "square"}, "encoding": {"x2": {"field": "X2"}}},
   {"data": {"name": "d_sig"}, "transform": [{"calculate": "indexof(['L2','day 1','day 2','day 5','day 10'], datum.from)", "as": "X"}, {"calculate": "datum.top", "as": "Y"}], "mark": {"type": "rule", "color": "#000000", "strokeWidth": 2}, "encoding": {"y2": {"field": "ly"}}},
   {"data": {"name": "d_sig"}, "transform": [{"calculate": "indexof(['L2','day 1','day 2','day 5','day 10'], datum.to)", "as": "X"}, {"calculate": "datum.top", "as": "Y"}], "mark": {"type": "rule", "color": "#000000", "strokeWidth": 2}, "encoding": {"y2": {"field": "ry"}}},
   {"data": {"name": "d_sig"}, "transform": [{"calculate": "(indexof(['L2','day 1','day 2','day 5','day 10'], datum.from) + indexof(['L2','day 1','day 2','day 5','day 10'], datum.to)) / 2", "as": "X"}, {"calculate": "datum.ty", "as": "Y"}], "mark": {"type": "text", "fontSize": 28, "baseline": "alphabetic", "color": "#ff0000"}, "encoding": {"text": {"field": "label"}}}
  ]
 },
 {"width": 162, "height": 401, "data": {"values": [{"s": 1}]}, "mark": {"type": "point", "opacity": 0}, "encoding": {}},
 {
  "width": 486, "height": 401,
  "title": {"text": "(e)", "dx": -126, "dy": 12.1},
  "encoding": {
   "x": {"field": "X", "type": "quantitative", "scale": {"domain": [-0.667, 4.679], "nice": false, "zero": false, "padding": 0}, "axis": {"values": [0,1,2,3,4], "labelExpr": "['L2','day 1','day 2','day 5','day 10'][datum.value]", "title": null, "labelAngle": -57, "labelAlign": "right", "labelBaseline": "middle", "labelPadding": 31, "labelOffset": 13}},
   "y": {"field": "Y", "type": "quantitative", "scale": {"domain": [0, 6], "range": [401, 1.8], "nice": false, "zero": false}, "axis": {"values": [0,2,4,6], "title": "Normalized hsp-6 mRNA level", "labelPadding": 21, "titlePadding": 25}}
  },
  "layer": [
   {"data": {"name": "e_bar"}, "transform": [{"calculate": "indexof(['L2','day 1','day 2','day 5','day 10'], datum.g)", "as": "X"}, {"calculate": "datum.mean", "as": "Y"}], "mark": {"type": "bar", "orient": "vertical", "width": 52, "fill": "#ffffff", "stroke": "#000000", "strokeWidth": 3.5}, "encoding": {"y2": {"datum": 0}}},
   {"data": {"name": "e_pts"}, "transform": [
     {"window": [{"op": "row_number", "as": "rn"}, {"op": "min", "field": "v", "as": "lo5"}, {"op": "max", "field": "v", "as": "hi5"}, {"op": "count", "as": "c5"}, {"op": "lag", "field": "v", "as": "pv"}, {"op": "lead", "field": "v", "as": "nv"}], "groupby": ["g"], "sort": [{"field": "v", "order": "descending"}], "frame": [-2, 2]},
     {"calculate": "min(isValid(datum.pv) ? abs(datum.pv - datum.v) : 99, isValid(datum.nv) ? abs(datum.nv - datum.v) : 99) * 66.5", "as": "nn"},
     {"calculate": "datum.c5 * 6 / ((datum.hi5 - datum.lo5) * 66.5 + 0.5)", "as": "occ"},
     {"calculate": "min(24, max((datum.occ - 1.2) * 10, datum.nn < 6 ? 10 : 0))", "as": "sp"},
     {"calculate": "indexof(['L2','day 1','day 2','day 5','day 10'], datum.g) + (datum.rn % 2 == 0 ? 1 : -1) * datum.sp * (0.3 + 0.7 * ((datum.rn * 0.618034) % 1)) / 90.9", "as": "X"},
     {"calculate": "datum.v", "as": "Y"}
    ], "mark": {"type": "circle", "size": 32, "color": "#000000", "opacity": 1}},
   {"data": {"name": "e_bar"}, "transform": [{"calculate": "indexof(['L2','day 1','day 2','day 5','day 10'], datum.g)", "as": "X"}, {"calculate": "datum.lo", "as": "Y"}], "mark": {"type": "rule", "color": "#ff0000", "strokeWidth": 4}, "encoding": {"y2": {"field": "hi"}}},
   {"data": {"name": "e_bar"}, "transform": [{"fold": ["lo", "hi"], "as": ["k", "Y"]}, {"calculate": "indexof(['L2','day 1','day 2','day 5','day 10'], datum.g) - 0.167", "as": "X"}, {"calculate": "indexof(['L2','day 1','day 2','day 5','day 10'], datum.g) + 0.167", "as": "X2"}], "mark": {"type": "rule", "color": "#ff0000", "strokeWidth": 4}, "encoding": {"x2": {"field": "X2"}}},
   {"data": {"name": "e_bar"}, "transform": [{"calculate": "indexof(['L2','day 1','day 2','day 5','day 10'], datum.g)", "as": "X"}, {"calculate": "datum.ny", "as": "Y"}], "mark": {"type": "text", "fontSize": 22, "baseline": "alphabetic", "color": "#000000"}, "encoding": {"text": {"field": "n"}}},
   {"data": {"name": "e_sig"}, "transform": [{"calculate": "indexof(['L2','day 1','day 2','day 5','day 10'], datum.from)", "as": "X"}, {"calculate": "indexof(['L2','day 1','day 2','day 5','day 10'], datum.to)", "as": "X2"}, {"calculate": "datum.top", "as": "Y"}], "mark": {"type": "rule", "color": "#000000", "strokeWidth": 2, "strokeCap": "square"}, "encoding": {"x2": {"field": "X2"}}},
   {"data": {"name": "e_sig"}, "transform": [{"calculate": "indexof(['L2','day 1','day 2','day 5','day 10'], datum.from)", "as": "X"}, {"calculate": "datum.top", "as": "Y"}], "mark": {"type": "rule", "color": "#000000", "strokeWidth": 2}, "encoding": {"y2": {"field": "ly"}}},
   {"data": {"name": "e_sig"}, "transform": [{"calculate": "indexof(['L2','day 1','day 2','day 5','day 10'], datum.to)", "as": "X"}, {"calculate": "datum.top", "as": "Y"}], "mark": {"type": "rule", "color": "#000000", "strokeWidth": 2}, "encoding": {"y2": {"field": "ry"}}},
   {"data": {"name": "e_sig"}, "transform": [{"calculate": "(indexof(['L2','day 1','day 2','day 5','day 10'], datum.from) + indexof(['L2','day 1','day 2','day 5','day 10'], datum.to)) / 2", "as": "X"}, {"calculate": "datum.ty", "as": "Y"}], "mark": {"type": "text", "fontSize": 28, "baseline": "alphabetic", "color": "#ff0000"}, "encoding": {"text": {"field": "label"}}}
  ]
 },
 {"width": 194, "height": 401, "data": {"values": [{"s": 1}]}, "mark": {"type": "point", "opacity": 0}, "encoding": {}},
 {
  "width": 479, "height": 401,
  "title": {"text": "(f)", "dx": -148, "dy": 11.7},
  "encoding": {
   "x": {"field": "X", "type": "quantitative", "scale": {"domain": [-0.658, 4.683], "nice": false, "zero": false, "padding": 0}, "axis": {"values": [0,1,2,3,4], "labelExpr": "['L2','day 1','day 2','day 5','day 10'][datum.value]", "title": null, "labelAngle": -57, "labelAlign": "right", "labelBaseline": "middle", "labelPadding": 31, "labelOffset": 13}},
   "y": {"field": "Y", "type": "quantitative", "scale": {"domain": [0, 4], "range": [401, 6.2], "nice": false, "zero": false}, "axis": {"values": [0,1,2,3,4], "title": "Normalized hsp-16.2 mRNA level", "labelPadding": 20, "titlePadding": 22}}
  },
  "layer": [
   {"data": {"name": "f_bar"}, "transform": [{"calculate": "indexof(['L2','day 1','day 2','day 5','day 10'], datum.g)", "as": "X"}, {"calculate": "datum.mean", "as": "Y"}], "mark": {"type": "bar", "orient": "vertical", "width": 52, "fill": "#ffffff", "stroke": "#000000", "strokeWidth": 3.5}, "encoding": {"y2": {"datum": 0}}},
   {"data": {"name": "f_pts"}, "transform": [
     {"window": [{"op": "row_number", "as": "rn"}, {"op": "min", "field": "v", "as": "lo5"}, {"op": "max", "field": "v", "as": "hi5"}, {"op": "count", "as": "c5"}, {"op": "lag", "field": "v", "as": "pv"}, {"op": "lead", "field": "v", "as": "nv"}], "groupby": ["g"], "sort": [{"field": "v", "order": "descending"}], "frame": [-2, 2]},
     {"calculate": "min(isValid(datum.pv) ? abs(datum.pv - datum.v) : 99, isValid(datum.nv) ? abs(datum.nv - datum.v) : 99) * 98.7", "as": "nn"},
     {"calculate": "datum.c5 * 6 / ((datum.hi5 - datum.lo5) * 98.7 + 0.5)", "as": "occ"},
     {"calculate": "min(24, max((datum.occ - 1.2) * 10, datum.nn < 6 ? 10 : 0))", "as": "sp"},
     {"calculate": "indexof(['L2','day 1','day 2','day 5','day 10'], datum.g) + (datum.rn % 2 == 0 ? 1 : -1) * datum.sp * (0.3 + 0.7 * ((datum.rn * 0.618034) % 1)) / 89.7", "as": "X"},
     {"calculate": "datum.v", "as": "Y"}
    ], "mark": {"type": "circle", "size": 32, "color": "#000000", "opacity": 1}},
   {"data": {"name": "f_bar"}, "transform": [{"calculate": "indexof(['L2','day 1','day 2','day 5','day 10'], datum.g)", "as": "X"}, {"calculate": "datum.lo", "as": "Y"}], "mark": {"type": "rule", "color": "#ff0000", "strokeWidth": 4}, "encoding": {"y2": {"field": "hi"}}},
   {"data": {"name": "f_bar"}, "transform": [{"fold": ["lo", "hi"], "as": ["k", "Y"]}, {"calculate": "indexof(['L2','day 1','day 2','day 5','day 10'], datum.g) - 0.165", "as": "X"}, {"calculate": "indexof(['L2','day 1','day 2','day 5','day 10'], datum.g) + 0.165", "as": "X2"}], "mark": {"type": "rule", "color": "#ff0000", "strokeWidth": 4}, "encoding": {"x2": {"field": "X2"}}},
   {"data": {"name": "f_bar"}, "transform": [{"calculate": "indexof(['L2','day 1','day 2','day 5','day 10'], datum.g)", "as": "X"}, {"calculate": "datum.ny", "as": "Y"}], "mark": {"type": "text", "fontSize": 22, "baseline": "alphabetic", "color": "#000000"}, "encoding": {"text": {"field": "n"}}},
   {"data": {"name": "f_sig"}, "transform": [{"calculate": "indexof(['L2','day 1','day 2','day 5','day 10'], datum.from)", "as": "X"}, {"calculate": "indexof(['L2','day 1','day 2','day 5','day 10'], datum.to)", "as": "X2"}, {"calculate": "datum.top", "as": "Y"}], "mark": {"type": "rule", "color": "#000000", "strokeWidth": 2, "strokeCap": "square"}, "encoding": {"x2": {"field": "X2"}}},
   {"data": {"name": "f_sig"}, "transform": [{"calculate": "indexof(['L2','day 1','day 2','day 5','day 10'], datum.from)", "as": "X"}, {"calculate": "datum.top", "as": "Y"}], "mark": {"type": "rule", "color": "#000000", "strokeWidth": 2}, "encoding": {"y2": {"field": "ly"}}},
   {"data": {"name": "f_sig"}, "transform": [{"calculate": "indexof(['L2','day 1','day 2','day 5','day 10'], datum.to)", "as": "X"}, {"calculate": "datum.top", "as": "Y"}], "mark": {"type": "rule", "color": "#000000", "strokeWidth": 2}, "encoding": {"y2": {"field": "ry"}}},
   {"data": {"name": "f_sig"}, "transform": [{"calculate": "(indexof(['L2','day 1','day 2','day 5','day 10'], datum.from) + indexof(['L2','day 1','day 2','day 5','day 10'], datum.to)) / 2", "as": "X"}, {"calculate": "datum.ty", "as": "Y"}], "mark": {"type": "text", "fontSize": 28, "baseline": "alphabetic", "color": "#ff0000"}, "encoding": {"text": {"field": "label"}}}
  ]
 }
 ]}
]
}
